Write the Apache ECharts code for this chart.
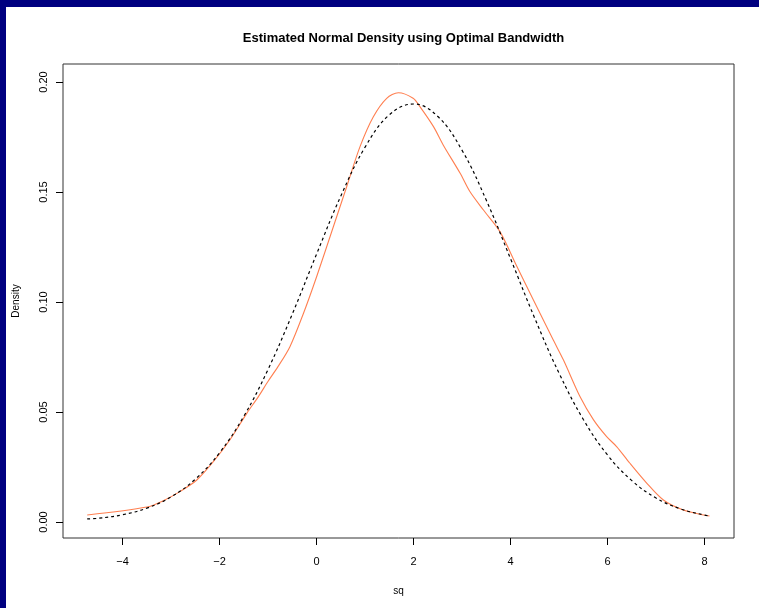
<!DOCTYPE html>
<html>
<head>
<meta charset="utf-8">
<script src="https://cdn.jsdelivr.net/npm/echarts@6/dist/echarts.min.js"></script>
<style>
html,body{margin:0;padding:0;background:#fff;}
#chart{width:759px;height:608px;}
</style>
</head>
<body>
<div id="chart"></div>
<script>
// Normal density (black dashed)
var normX = [-4.73, -4.5, -4, -3.5, -3, -2.5, -2, -1.5, -1, -0.5, 0, 0.5, 1, 1.5, 2, 2.5, 3, 3.5, 4, 4.5, 5, 5.5, 6, 6.5, 7, 7.5, 8, 8.1];
var normY = [0.0014, 0.0017, 0.0033, 0.0063, 0.0114, 0.0195, 0.0315, 0.0481, 0.0694, 0.0946, 0.1218, 0.1482, 0.1704, 0.1851, 0.1900, 0.1843, 0.1689, 0.1462, 0.1196, 0.0925, 0.0676, 0.0466, 0.0304, 0.0188, 0.0109, 0.0060, 0.0031, 0.0027];
// Kernel density estimate (coral)
var kdeX = [-4.73, -3.5, -3.16, -2.82, -2.47, -2.13, -1.79, -1.44, -1.2, -1.0, -0.8, -0.55, -0.27, 0.0, 0.345, 0.62, 0.895, 1.17, 1.445, 1.685, 1.99, 2.13, 2.41, 2.61, 2.96, 3.16, 3.44, 3.78, 4.13, 4.47, 4.88, 5.09, 5.43, 5.71, 5.98, 6.19, 6.46, 6.81, 7.15, 7.56, 8.10];
var kdeY = [0.0032, 0.0068, 0.0097, 0.0138, 0.0191, 0.0274, 0.0373, 0.0494, 0.0570, 0.0640, 0.0705, 0.0797, 0.0949, 0.1115, 0.1342, 0.1524, 0.1706, 0.1842, 0.1926, 0.1951, 0.1926, 0.1888, 0.1797, 0.1714, 0.1585, 0.1502, 0.1418, 0.1320, 0.1161, 0.1009, 0.0827, 0.0736, 0.0570, 0.0464, 0.0388, 0.0342, 0.0267, 0.0176, 0.0100, 0.0055, 0.0027];
var xTicks = [-4, -2, 0, 2, 4, 6, 8];
var yTicks = [0, 0.05, 0.10, 0.15, 0.20];
var yTickLabels = ['0.00', '0.05', '0.10', '0.15', '0.20'];
var titleText = 'Estimated Normal Density using Optimal Bandwidth';
var xName = 'sq';
var yName = 'Density';

function pairs(xs, ys) { return xs.map(function (x, i) { return [x, ys[i]]; }); }

var FONT = "'Liberation Sans', Arial, Helvetica, sans-serif";
var chart = echarts.init(document.getElementById('chart'), null, { renderer: 'canvas' });
chart.setOption({
  animation: false,
  backgroundColor: '#ffffff',
  title: {
    text: titleText,
    left: 398.5,
    top: 27,
    textAlign: 'center',
    textStyle: { fontFamily: FONT, fontSize: 13, fontWeight: 'bold', color: '#000' }
  },
  graphic: [
    { type: 'rect', shape: { x: 0, y: 0, width: 759, height: 7 }, style: { fill: '#000080' }, z: 100 },
    { type: 'rect', shape: { x: 0, y: 0, width: 6, height: 608 }, style: { fill: '#000080' }, z: 100 }
  ],
  grid: {
    left: 63, right: 25, top: 64, bottom: 70,
    show: true, borderColor: '#333', borderWidth: 1, backgroundColor: 'transparent'
  },
  xAxis: {
    type: 'value',
    min: -5.229, max: 8.606,
    name: xName,
    nameLocation: 'middle',
    nameGap: 48,
    nameTextStyle: { fontFamily: FONT, fontSize: 10, color: '#000' },
    splitLine: { show: false },
    axisLine: { show: false, onZero: false },
    axisTick: { show: true, length: 7, inside: false, customValues: xTicks, lineStyle: { color: '#000' } },
    axisLabel: {
      customValues: xTicks,
      margin: 18,
      fontFamily: FONT, fontSize: 11, color: '#000',
      formatter: function (v) { return String(v).replace('-', '\u2212'); }
    }
  },
  yAxis: {
    type: 'value',
    min: -0.00727, max: 0.20818,
    name: yName,
    nameLocation: 'middle',
    nameRotate: 90,
    nameGap: 42,
    nameTextStyle: { fontFamily: FONT, fontSize: 10, color: '#000' },
    splitLine: { show: false },
    axisLine: { show: false, onZero: false },
    axisTick: { show: true, length: 7, inside: false, customValues: yTicks, lineStyle: { color: '#000' } },
    axisLabel: {
      customValues: yTicks,
      rotate: 90,
      margin: 14,
      fontFamily: FONT, fontSize: 11, color: '#000',
      formatter: function (v) {
        for (var i = 0; i < yTicks.length; i++) { if (Math.abs(v - yTicks[i]) < 1e-9) return yTickLabels[i]; }
        return v.toFixed(2);
      }
    }
  },
  series: [
    {
      type: 'line',
      data: pairs(kdeX, kdeY),
      showSymbol: false,
      smooth: 0.3,
      lineStyle: { color: '#FF7F50', width: 1.1 },
      z: 2
    },
    {
      type: 'line',
      data: pairs(normX, normY),
      showSymbol: false,
      smooth: 0.4,
      lineStyle: { color: '#000', width: 1.2, type: [3, 3] },
      z: 3
    }
  ]
});
</script>
</body>
</html>
